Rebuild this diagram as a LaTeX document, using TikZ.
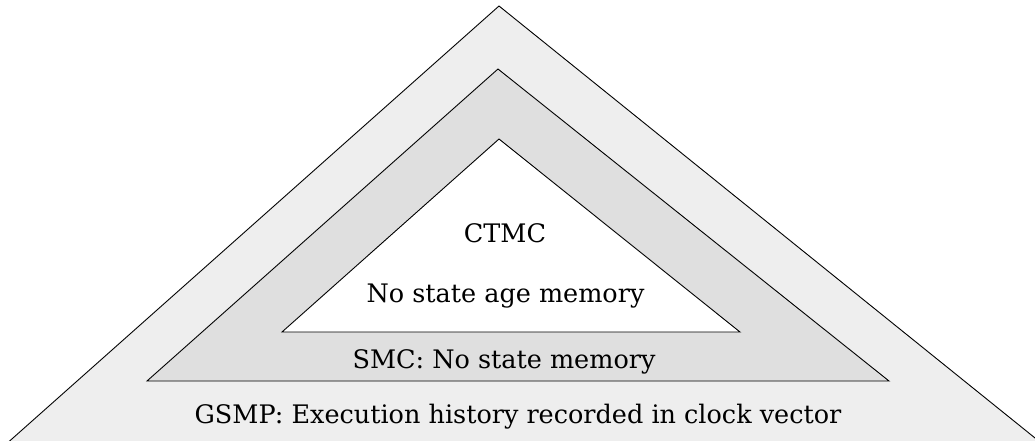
\documentclass[tikz,border=0pt]{standalone}
\usepackage{fontspec}
\setmainfont{DejaVu Serif}
\definecolor{outerfill}{HTML}{EEEEEE}
\definecolor{midfill}{HTML}{DFDFDF}
\begin{document}
\begin{tikzpicture}[x=1pt,y=-1pt,
  layer/.style={draw=black,line width=0.9pt,line join=miter},
  lbl/.style={anchor=base,inner sep=0pt,font=\fontsize{25.5}{30}\selectfont}]
\useasboundingbox (0,0) rectangle (1035,441);
\begin{scope}
\clip (0,0) rectangle (1035,441);
% outer layer: GSMP
\coordinate (oA) at (499,6);
\coordinate (oL) at (8.5,442);
\coordinate (oR) at (1040,442);
\filldraw[layer,fill=outerfill] (oA) -- (oR) -- (oL) -- cycle;
% middle layer: SMC
\coordinate (mA) at (498,69);
\coordinate (mL) at (147,381);
\coordinate (mR) at (889,381);
\filldraw[layer,fill=midfill] (mA) -- (mR) -- (mL) -- cycle;
% inner layer: CTMC
\coordinate (iA) at (499,139);
\coordinate (iL) at (282,332);
\coordinate (iR) at (740,332);
\filldraw[layer,fill=white] (iA) -- (iR) -- (iL) -- cycle;
\end{scope}
\node[lbl] (ctmc) at (505,242) {CTMC};
\node[lbl] (ctmcmem) at (505.5,302) {No state age memory};
\node[lbl] (smc) at (504,368) {SMC: No state memory};
\node[lbl] (gsmp) at (518,423) {GSMP: Execution history recorded in clock vector};
\end{tikzpicture}
\end{document}
